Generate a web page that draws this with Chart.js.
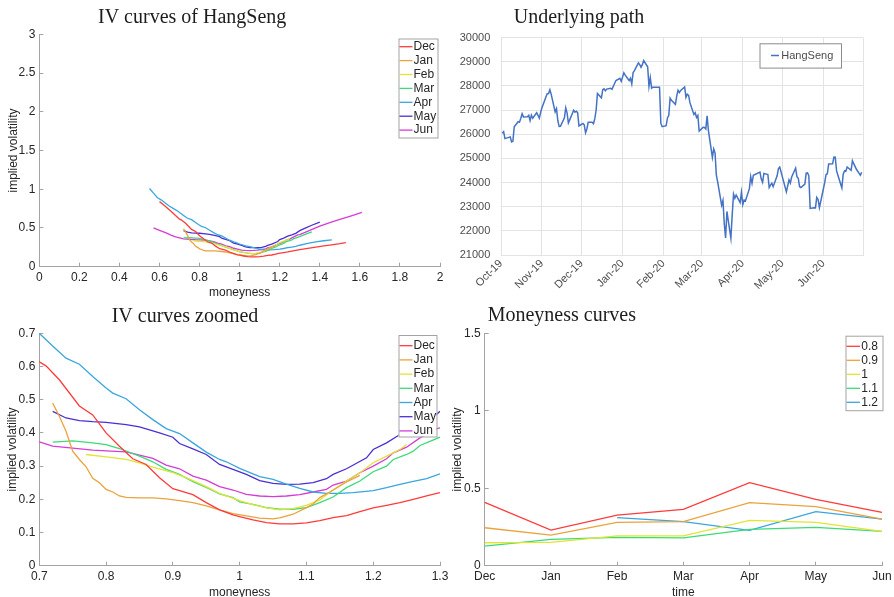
<!DOCTYPE html>
<html lang="en">
<head>
    <meta charset="UTF-8">
    <title>HangSeng implied volatility</title>
    <script src="https://cdn.jsdelivr.net/npm/chart.js"></script>
    <style>
        html, body { margin: 0; padding: 0; background: #fff; overflow: hidden; }
        #page { position: relative; width: 894px; height: 597px; overflow: hidden; }
        #page canvas { position: absolute; }
    </style>
</head>
<body>
    <div id="page">
        <canvas id="ivFull" width="447" height="300" style="left:0;top:0"></canvas>
        <canvas id="path" width="447" height="300" style="left:447px;top:0"></canvas>
        <canvas id="ivZoom" width="452" height="300" style="left:0;top:300px"></canvas>
        <canvas id="mnyCurves" width="447" height="300" style="left:447px;top:300px"></canvas>
    </div>

    <script>
        // IV smile per expiry: [moneyness, implied vol]
        var ivDec = [[0.60,0.84],[0.62,0.80],[0.64,0.755],[0.66,0.71],[0.68,0.66],[0.70,0.614],[0.71,0.602],[0.73,0.56],[0.76,0.481],[0.78,0.454],[0.80,0.40],[0.82,0.36],[0.84,0.322],[0.86,0.305],[0.88,0.265],[0.90,0.232],[0.91,0.226],[0.93,0.214],[0.95,0.19],[0.97,0.168],[0.99,0.153],[1.00,0.148],[1.02,0.138],[1.04,0.13],[1.06,0.126],[1.08,0.126],[1.10,0.129],[1.12,0.136],[1.14,0.145],[1.16,0.151],[1.18,0.163],[1.20,0.174],[1.22,0.182],[1.24,0.19],[1.26,0.2],[1.28,0.21],[1.30,0.22],[1.34,0.236],[1.38,0.252],[1.42,0.268],[1.46,0.283],[1.50,0.297],[1.53,0.31]];
        var ivJan = [[0.72,0.49],[0.73,0.45],[0.74,0.405],[0.75,0.345],[0.76,0.32],[0.77,0.298],[0.78,0.263],[0.79,0.25],[0.80,0.23],[0.81,0.222],[0.82,0.21],[0.83,0.206],[0.85,0.204],[0.87,0.204],[0.89,0.201],[0.91,0.196],[0.93,0.19],[0.95,0.18],[0.97,0.168],[0.99,0.157],[1.01,0.15],[1.03,0.143],[1.05,0.141],[1.06,0.144],[1.08,0.155],[1.10,0.175],[1.11,0.186],[1.12,0.205],[1.14,0.228],[1.16,0.252],[1.18,0.272]];
        var ivFeb = [[0.77,0.335],[0.80,0.328],[0.83,0.32],[0.85,0.31],[0.87,0.297],[0.90,0.28],[0.92,0.265],[0.95,0.238],[0.97,0.218],[1.00,0.196],[1.02,0.184],[1.04,0.174],[1.06,0.168],[1.08,0.172],[1.10,0.182],[1.12,0.198],[1.14,0.228],[1.16,0.255],[1.18,0.28],[1.20,0.31],[1.22,0.33],[1.24,0.35],[1.25,0.365]];
        var ivMar = [[0.72,0.372],[0.75,0.376],[0.78,0.37],[0.80,0.365],[0.82,0.353],[0.85,0.33],[0.87,0.313],[0.89,0.29],[0.91,0.275],[0.93,0.253],[0.95,0.236],[0.97,0.216],[0.99,0.205],[1.00,0.192],[1.02,0.185],[1.04,0.175],[1.06,0.17],[1.08,0.17],[1.10,0.175],[1.12,0.19],[1.14,0.207],[1.16,0.235],[1.18,0.255],[1.20,0.283],[1.22,0.30],[1.23,0.32],[1.25,0.335],[1.26,0.345],[1.27,0.362],[1.30,0.387],[1.33,0.42],[1.36,0.45]];
        var ivApr = [[0.55,1.01],[0.57,0.95],[0.59,0.89],[0.61,0.86],[0.63,0.82],[0.65,0.78],[0.67,0.75],[0.69,0.72],[0.70,0.70],[0.72,0.662],[0.74,0.625],[0.76,0.607],[0.78,0.57],[0.80,0.535],[0.81,0.52],[0.83,0.503],[0.85,0.47],[0.87,0.44],[0.89,0.413],[0.91,0.398],[0.93,0.37],[0.95,0.342],[0.97,0.32],[0.98,0.313],[1.00,0.293],[1.03,0.268],[1.05,0.26],[1.07,0.246],[1.09,0.233],[1.11,0.222],[1.13,0.218],[1.15,0.218],[1.17,0.22],[1.20,0.226],[1.22,0.235],[1.24,0.245],[1.26,0.254],[1.28,0.262],[1.30,0.277],[1.34,0.30],[1.38,0.32],[1.42,0.335],[1.46,0.345]];
        var ivMay = [[0.72,0.465],[0.74,0.445],[0.76,0.437],[0.78,0.434],[0.80,0.432],[0.83,0.425],[0.85,0.418],[0.88,0.40],[0.90,0.387],[0.91,0.368],[0.93,0.352],[0.95,0.335],[0.97,0.305],[0.99,0.29],[1.01,0.275],[1.03,0.256],[1.05,0.248],[1.07,0.245],[1.09,0.246],[1.11,0.25],[1.13,0.262],[1.14,0.275],[1.16,0.292],[1.19,0.325],[1.20,0.35],[1.22,0.37],[1.24,0.395],[1.26,0.41],[1.28,0.43],[1.30,0.465],[1.33,0.50],[1.36,0.535],[1.40,0.575]];
        var ivJun = [[0.57,0.50],[0.60,0.47],[0.63,0.44],[0.66,0.405],[0.68,0.385],[0.70,0.373],[0.72,0.36],[0.75,0.354],[0.78,0.348],[0.80,0.346],[0.83,0.343],[0.85,0.333],[0.87,0.323],[0.89,0.303],[0.91,0.292],[0.93,0.27],[0.95,0.258],[0.97,0.238],[0.99,0.228],[1.01,0.215],[1.03,0.21],[1.05,0.208],[1.07,0.21],[1.09,0.214],[1.11,0.222],[1.13,0.23],[1.14,0.243],[1.16,0.255],[1.18,0.28],[1.20,0.30],[1.22,0.322],[1.23,0.34],[1.25,0.357],[1.27,0.385],[1.29,0.41],[1.30,0.415],[1.35,0.47],[1.40,0.525],[1.45,0.57],[1.50,0.61],[1.55,0.65],[1.61,0.70]];
        var expiries = ['Dec', 'Jan', 'Feb', 'Mar', 'Apr', 'May', 'Jun'];
        var expiryColors = ['#ff3b3b', '#eba23c', '#e3e336', '#3cdb78', '#3aa6de', '#4a30d4', '#d53cd5'];

        // implied vol at fixed moneyness, per expiry month
        var months = ['Dec', 'Jan', 'Feb', 'Mar', 'Apr', 'May', 'Jun'];
        var mny08 = [0.409, 0.23, 0.327, 0.364, 0.536, 0.428, 0.344];
        var mny09 = [0.245, 0.198, 0.28, 0.284, 0.407, 0.381, 0.301];
        var mny10 = [0.148, 0.151, 0.192, 0.192, 0.293, 0.28, 0.222];
        var mny11 = [0.127, 0.17, 0.183, 0.179, 0.235, 0.247, 0.222];
        var mny12 = [null, null, 0.31, 0.284, 0.228, 0.349, 0.301];
        var mnyLabels = ['0.8', '0.9', '1', '1.1', '1.2'];

        // HangSeng daily closes
        var hsDates = [
            '2019-10-02','2019-10-03','2019-10-04','2019-10-08','2019-10-09','2019-10-10','2019-10-11','2019-10-14','2019-10-15','2019-10-16','2019-10-17','2019-10-18','2019-10-21','2019-10-22','2019-10-23','2019-10-24','2019-10-25','2019-10-28','2019-10-29','2019-10-30','2019-10-31',
            '2019-11-01','2019-11-04','2019-11-05','2019-11-06','2019-11-07','2019-11-08','2019-11-11','2019-11-12','2019-11-13','2019-11-14','2019-11-15','2019-11-18','2019-11-19','2019-11-20','2019-11-21','2019-11-22','2019-11-25','2019-11-26','2019-11-27','2019-11-28','2019-11-29',
            '2019-12-02','2019-12-03','2019-12-04','2019-12-05','2019-12-06','2019-12-09','2019-12-10','2019-12-11','2019-12-12','2019-12-13','2019-12-16','2019-12-17','2019-12-18','2019-12-19','2019-12-20','2019-12-23','2019-12-24','2019-12-27','2019-12-30','2019-12-31',
            '2020-01-02','2020-01-03','2020-01-06','2020-01-07','2020-01-08','2020-01-09','2020-01-10','2020-01-13','2020-01-14','2020-01-15','2020-01-16','2020-01-17','2020-01-20','2020-01-21','2020-01-22','2020-01-23','2020-01-24','2020-01-29','2020-01-30','2020-01-31',
            '2020-02-03','2020-02-04','2020-02-05','2020-02-06','2020-02-07','2020-02-10','2020-02-11','2020-02-12','2020-02-13','2020-02-14','2020-02-17','2020-02-18','2020-02-19','2020-02-20','2020-02-21','2020-02-24','2020-02-25','2020-02-26','2020-02-27','2020-02-28',
            '2020-03-02','2020-03-03','2020-03-04','2020-03-05','2020-03-06','2020-03-09','2020-03-10','2020-03-11','2020-03-12','2020-03-13','2020-03-16','2020-03-17','2020-03-18','2020-03-19','2020-03-20','2020-03-23','2020-03-24','2020-03-25','2020-03-26','2020-03-27','2020-03-30','2020-03-31',
            '2020-04-01','2020-04-02','2020-04-03','2020-04-06','2020-04-07','2020-04-08','2020-04-09','2020-04-14','2020-04-15','2020-04-16','2020-04-17','2020-04-20','2020-04-21','2020-04-22','2020-04-23','2020-04-24','2020-04-27','2020-04-28','2020-04-29',
            '2020-05-04','2020-05-05','2020-05-06','2020-05-07','2020-05-08','2020-05-11','2020-05-12','2020-05-13','2020-05-14','2020-05-15','2020-05-18','2020-05-19','2020-05-20','2020-05-21','2020-05-22','2020-05-25','2020-05-26','2020-05-27','2020-05-28','2020-05-29',
            '2020-06-01','2020-06-02','2020-06-03','2020-06-04','2020-06-05','2020-06-08','2020-06-09','2020-06-10','2020-06-11','2020-06-12','2020-06-15','2020-06-16','2020-06-17','2020-06-18','2020-06-19','2020-06-22','2020-06-23','2020-06-24','2020-06-26','2020-06-29','2020-06-30'
        ];
        var hsClose = [
            26043,26110,25821,25893,25682,25707,26308,26521,26503,26665,26848,26720,26726,26786,26566,26797,26667,26891,26787,26667,26906,
            27101,27548,27683,27688,27847,27651,26926,27065,26571,26323,26327,26682,27094,26890,26467,26596,26994,26914,26954,26894,26346,
            26445,26391,26063,26218,26498,26495,26437,26645,26995,27688,27508,27844,27884,27800,27872,27906,27864,28225,28319,28190,
            28544,28452,28226,28322,28088,28561,28638,28955,28886,28774,28883,29056,28795,27985,28341,27909,27950,27950,26449,26313,
            26357,26676,26787,27494,27404,27241,27584,27824,27730,27816,27960,27530,27656,27609,27309,26821,26893,26696,26779,26130,
            26292,26285,26222,26768,26147,25040,25392,25232,24309,24033,23064,23264,22292,21709,22805,21696,22663,23527,23352,23484,23175,23603,
            23086,23280,23236,23749,24253,23970,24300,24435,24145,24006,24380,24330,23794,23893,23977,23831,24280,24576,24644,
            23614,23868,24106,23980,24230,24602,24246,24180,23830,23797,23935,24388,24400,24280,22930,22952,22950,23385,23300,22961,
            23733,23996,24326,24366,24770,24777,25057,25049,24480,24301,23777,24344,24481,24465,24644,24511,24907,24782,24550,24301,24427
        ];
        var monthStarts = ['2019-10-01','2019-11-01','2019-12-01','2020-01-01','2020-02-01','2020-03-01','2020-04-01','2020-05-01','2020-06-01','2020-07-01'];
        var monthTickLabels = ['Oct-19','Nov-19','Dec-19','Jan-20','Feb-20','Mar-20','Apr-20','May-20','Jun-20',''];

        var SANS = '"Liberation Sans", Arial, sans-serif';
        var axisGrey = '#a3a3a3';
        var textDark = '#262626';

        function dayNo(s) {
            return (Date.parse(s) - Date.parse('2019-10-01')) / 86400000;
        }

        // serif title drawn at a fixed spot of the canvas
        var panelTitle = {
            id: 'panelTitle',
            afterDraw: function(chart, args, o) {
                var ctx = chart.ctx;
                ctx.save();
                ctx.font = '20px "Liberation Serif", serif';
                ctx.fillStyle = '#1c1c1c';
                ctx.textAlign = 'left';
                ctx.textBaseline = 'alphabetic';
                ctx.fillText(o.text, o.x, o.y);
                ctx.restore();
            }
        };

        // boxed legend inside the plot, like matlab / excel
        var boxLegend = {
            id: 'boxLegend',
            afterDraw: function(chart, args, o) {
                var ctx = chart.ctx;
                ctx.save();
                ctx.fillStyle = '#fff';
                ctx.fillRect(o.x, o.y, o.w, o.h);
                ctx.strokeStyle = o.border;
                ctx.lineWidth = 1;
                ctx.strokeRect(o.x + 0.5, o.y + 0.5, o.w, o.h);
                ctx.font = o.font;
                ctx.textBaseline = 'middle';
                ctx.textAlign = 'left';
                chart.data.datasets.forEach(function(ds, i) {
                    var y = o.row0 + i * o.rowH;
                    ctx.strokeStyle = ds.borderColor;
                    ctx.lineWidth = ds.borderWidth;
                    ctx.beginPath();
                    ctx.moveTo(o.lineX1, y);
                    ctx.lineTo(o.lineX2, y);
                    ctx.stroke();
                    ctx.fillStyle = o.color;
                    ctx.fillText(ds.label, o.textX, y);
                });
                ctx.restore();
            }
        };

        function trimNum(v) {
            return String(+Number(v).toFixed(2));
        }

        // fixed size for a scale box, and no extra room asked for edge labels
        function fixX(h) {
            return function(s) { s.height = h; s.paddingLeft = 0; s.paddingRight = 0; };
        }
        function fixY(w) {
            return function(s) { s.width = w; s.paddingTop = 0; s.paddingBottom = 0; };
        }

        // matlab-ish axis: grey line, small inward ticks, no grid
        function matlabAxis(opts) {
            var ax = {
                ticks: { color: textDark, font: { size: 12, family: SANS }, padding: 8 },
                grid: { drawOnChartArea: false, drawTicks: true, tickLength: -4, color: axisGrey },
                border: { color: axisGrey },
                title: { display: true, text: opts.title, color: textDark, font: { size: 12, family: SANS }, padding: { top: opts.titlePad || 0, bottom: 0 } },
                afterFit: opts.afterFit
            };
            if (opts.min !== undefined) {
                ax.type = 'linear';
                ax.min = opts.min;
                ax.max = opts.max;
                ax.ticks.stepSize = opts.step;
                ax.ticks.callback = trimNum;
            }
            return ax;
        }

        function ivDatasets() {
            return [ivDec, ivJan, ivFeb, ivMar, ivApr, ivMay, ivJun].map(function(curve, i) {
                return {
                    label: expiries[i],
                    data: curve.map(function(p) { return { x: p[0], y: p[1] }; }),
                    borderColor: expiryColors[i],
                    backgroundColor: expiryColors[i],
                    borderWidth: 1.3,
                    pointRadius: 0,
                    showLine: true
                };
            });
        }

        var common = {
            responsive: false,
            animation: false,
            events: []
        };

        // top left: full IV curves
        new Chart(document.getElementById('ivFull'), {
            type: 'scatter',
            data: { datasets: ivDatasets() },
            options: Object.assign({}, common, {
                layout: { padding: { left: 0, top: 34.3, right: 7, bottom: 0 } },
                plugins: {
                    legend: { display: false },
                    tooltip: { enabled: false },
                    panelTitle: { text: 'IV curves of HangSeng', x: 98, y: 22.6 },
                    boxLegend: { x: 398.5, y: 38.5, w: 39, h: 99, row0: 46.7, rowH: 13.9, lineX1: 399.5, lineX2: 412.5, textX: 413.5,
                                 font: '12px ' + SANS, color: textDark, border: axisGrey }
                },
                scales: {
                    x: matlabAxis({ min: 0, max: 2, step: 0.2, title: 'moneyness', afterFit: fixX(33.3) }),
                    y: matlabAxis({ min: 0, max: 3, step: 0.5, title: 'implied volatility', titlePad: 6, afterFit: fixY(39.3) })
                }
            }),
            plugins: [panelTitle, boxLegend]
        });

        // top right: underlying path
        var hsPoints = hsDates.map(function(d, i) { return { x: dayNo(d), y: hsClose[i] }; });
        var excelGrid = '#e3e3e3';
        var excelText = '#4d4d4d';
        new Chart(document.getElementById('path'), {
            type: 'line',
            data: {
                datasets: [{
                    label: 'HangSeng',
                    data: hsPoints,
                    borderColor: '#4472c4',
                    backgroundColor: '#4472c4',
                    borderWidth: 1.5,
                    pointRadius: 0,
                    tension: 0
                }]
            },
            options: Object.assign({}, common, {
                layout: { padding: { left: 0, top: 37.7, right: 31, bottom: 0 } },
                plugins: {
                    legend: { display: false },
                    tooltip: { enabled: false },
                    panelTitle: { text: 'Underlying path', x: 66.7, y: 22.6 },
                    boxLegend: { x: 312.5, y: 43.3, w: 81.5, h: 24.3, row0: 55.5, rowH: 14, lineX1: 324, lineX2: 332, textX: 334.3,
                                 font: '11px ' + SANS, color: excelText, border: '#8c8c8c' }
                },
                scales: {
                    x: {
                        type: 'linear',
                        min: 0,
                        max: dayNo('2020-07-01'),
                        afterBuildTicks: function(s) {
                            s.ticks = monthStarts.map(function(d) { return { value: dayNo(d) }; });
                        },
                        ticks: {
                            autoSkip: false, minRotation: 45, maxRotation: 45, padding: 2,
                            color: excelText, font: { size: 11, family: SANS },
                            callback: function(v, i) { return monthTickLabels[i]; }
                        },
                        grid: { color: excelGrid, drawTicks: false },
                        border: { color: excelGrid },
                        afterFit: fixX(45)
                    },
                    y: {
                        min: 21000,
                        max: 30000,
                        ticks: {
                            stepSize: 1000, padding: 10.7,
                            color: excelText, font: { size: 11, family: SANS },
                            callback: function(v) { return String(v); }
                        },
                        grid: { color: excelGrid, drawTicks: false },
                        border: { color: excelGrid },
                        afterFit: fixY(54)
                    }
                }
            }),
            plugins: [panelTitle, boxLegend]
        });

        // bottom left: zoomed IV curves
        new Chart(document.getElementById('ivZoom'), {
            type: 'scatter',
            data: { datasets: ivDatasets() },
            options: Object.assign({}, common, {
                layout: { padding: { left: 0, top: 33.3, right: 12, bottom: 0 } },
                plugins: {
                    legend: { display: false },
                    tooltip: { enabled: false },
                    panelTitle: { text: 'IV curves zoomed', x: 111.7, y: 21.7 },
                    boxLegend: { x: 398.5, y: 35, w: 38, h: 101.5, row0: 45.7, rowH: 14.2, lineX1: 399.5, lineX2: 412.5, textX: 413.5,
                                 font: '12px ' + SANS, color: textDark, border: axisGrey }
                },
                scales: {
                    x: matlabAxis({ min: 0.7, max: 1.3, step: 0.1, title: 'moneyness', afterFit: fixX(34.3) }),
                    y: matlabAxis({ min: 0, max: 0.7, step: 0.1, title: 'implied volatility', titlePad: 5.5, afterFit: fixY(39.3) })
                }
            }),
            plugins: [panelTitle, boxLegend]
        });

        // bottom right: moneyness curves through time
        var mnySeries = [mny08, mny09, mny10, mny11, mny12];
        var xMonths = matlabAxis({ title: 'time', afterFit: fixX(34.3) });
        xMonths.type = 'category';
        xMonths.offset = false;
        new Chart(document.getElementById('mnyCurves'), {
            type: 'line',
            data: {
                labels: months,
                datasets: mnySeries.map(function(vals, i) {
                    return {
                        label: mnyLabels[i],
                        data: vals,
                        borderColor: expiryColors[i],
                        backgroundColor: expiryColors[i],
                        borderWidth: 1.3,
                        pointRadius: 0,
                        tension: 0
                    };
                })
            },
            options: Object.assign({}, common, {
                layout: { padding: { left: 0, top: 33.3, right: 12, bottom: 0 } },
                plugins: {
                    legend: { display: false },
                    tooltip: { enabled: false },
                    panelTitle: { text: 'Moneyness curves', x: 40.7, y: 20.7 },
                    boxLegend: { x: 398.5, y: 35.7, w: 37, h: 74.5, row0: 46.3, rowH: 14, lineX1: 399.5, lineX2: 413, textX: 414.3,
                                 font: '12px ' + SANS, color: textDark, border: axisGrey }
                },
                scales: {
                    x: xMonths,
                    y: matlabAxis({ min: 0, max: 1.5, step: 0.5, title: 'implied volatility', titlePad: 3, afterFit: fixY(37.7) })
                }
            }),
            plugins: [panelTitle, boxLegend]
        });
    </script>
</body>
</html>
